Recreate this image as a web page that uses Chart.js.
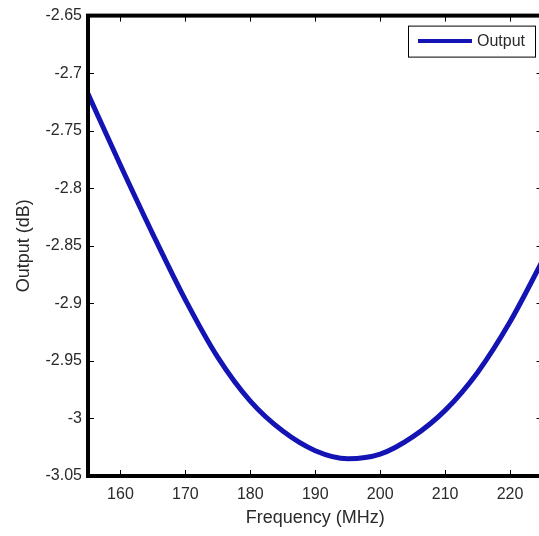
<!DOCTYPE html>
<html><head><meta charset="utf-8">
<script src="https://cdn.jsdelivr.net/npm/chart.js@4/dist/chart.umd.min.js"></script>
<style>
html,body{margin:0;padding:0;overflow:hidden;background:#fff;width:539px;height:536px;}
#wrap{width:550px;height:536px;}
canvas{display:block;}
</style></head><body>
<div id="wrap"><canvas id="c" width="550" height="536"></canvas></div>
<script>
const frequencies = [155,160,165,170,175,180,185,190,195,200,205,210,215,220,225];
const outputDb = [-2.718,-2.780,-2.840,-2.897,-2.947,-2.985,-3.011,-3.028,-3.035,-3.031,-3.016,-2.993,-2.960,-2.916,-2.863];
const xTicks = [160,170,180,190,200,210,220];
const yTicks = [-3.05,-3,-2.95,-2.9,-2.85,-2.8,-2.75,-2.7,-2.65];
const yTickLabels = ['-3.05','-3','-2.95','-2.9','-2.85','-2.8','-2.75','-2.7','-2.65'];
const seriesLabel = 'Output';
const xTitle = 'Frequency (MHz)';
const yTitle = 'Output (dB)';

const FAMILY = "'Liberation Sans',Arial,sans-serif";
const TXT = '#2a2a2a';
const lineColor = '#1414b4';

const framePlugin = {
  id: 'frame',
  afterDatasetsDraw(chart) {
    const {ctx, chartArea: {left, right, top, bottom}, scales: {x, y}} = chart;
    ctx.save();
    ctx.strokeStyle = '#000';
    ctx.lineWidth = 1;
    ctx.beginPath();
    xTicks.forEach(v => {
      const px = Math.round(x.getPixelForValue(v)) + 0.5;
      ctx.moveTo(px, bottom); ctx.lineTo(px, bottom - 6);
      ctx.moveTo(px, top); ctx.lineTo(px, top + 6);
    });
    yTicks.forEach(v => {
      const py = Math.round(y.getPixelForValue(v)) + 0.5;
      ctx.moveTo(left, py); ctx.lineTo(left + 6, py);
      ctx.moveTo(right, py); ctx.lineTo(right - 6, py);
    });
    ctx.stroke();
    ctx.lineWidth = 4;
    ctx.strokeRect(left, top, right - left, bottom - top);
    ctx.restore();
  },
  afterDraw(chart) {
    const {ctx, chartArea: {right, top}} = chart;
    const ds = chart.data.datasets[0];
    const bx = right - 134.5, by = top + 10, bw = 127, bh = 31;
    ctx.save();
    ctx.fillStyle = '#fff';
    ctx.fillRect(bx, by, bw, bh);
    ctx.strokeStyle = '#000';
    ctx.lineWidth = 1;
    ctx.strokeRect(bx + 0.5, by + 0.5, bw, bh);
    ctx.strokeStyle = ds.borderColor;
    ctx.lineWidth = 4;
    ctx.beginPath();
    ctx.moveTo(bx + 10, by + 15.5);
    ctx.lineTo(bx + 64, by + 15.5);
    ctx.stroke();
    ctx.fillStyle = TXT;
    ctx.font = "16px " + FAMILY;
    ctx.textBaseline = 'middle';
    ctx.textAlign = 'left';
    ctx.fillText(ds.label, bx + 69, by + 16);
    ctx.restore();
  }
};

new Chart(document.getElementById('c'), {
  type: 'line',
  data: {
    datasets: [{
      label: seriesLabel,
      data: frequencies.map((f, i) => ({x: f, y: outputDb[i]})),
      borderColor: lineColor,
      borderWidth: 5,
      pointRadius: 0,
      cubicInterpolationMode: 'monotone',
      fill: false
    }]
  },
  options: {
    responsive: false,
    animation: false,
    devicePixelRatio: 1,
    layout: {padding: {top: 12, right: 7.5, left: 0, bottom: 0}},
    plugins: {legend: {display: false}, tooltip: {enabled: false}},
    scales: {
      x: {
        type: 'linear', min: 155, max: 225,
        afterBuildTicks: s => { s.ticks = xTicks.map(v => ({value: v})); },
        grid: {display: false, drawTicks: false}, border: {display: false},
        ticks: {padding: 9, color: TXT, font: {family: FAMILY, size: 16}, maxRotation: 0, autoSkip: false,
                callback: v => String(v)},
        title: {display: true, text: xTitle, color: TXT, font: {family: FAMILY, size: 18}, padding: {top: 0, bottom: 7}},
        afterFit: s => { s.height = 60; }
      },
      y: {
        type: 'linear', min: -3.05, max: -2.65,
        afterBuildTicks: s => { s.ticks = yTicks.map(v => ({value: v})); },
        grid: {display: false, drawTicks: false}, border: {display: false},
        ticks: {padding: 6, color: TXT, font: {family: FAMILY, size: 16}, autoSkip: false,
                callback: v => yTickLabels[yTicks.indexOf(v)]},
        title: {display: true, text: yTitle, color: TXT, font: {family: FAMILY, size: 18}, padding: {top: 13, bottom: 0}},
        afterFit: s => { s.width = 88; }
      }
    }
  },
  plugins: [framePlugin]
});
</script>
</body></html>
